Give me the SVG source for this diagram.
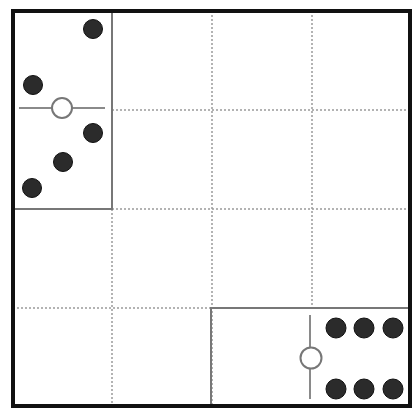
<svg xmlns="http://www.w3.org/2000/svg" width="413" height="416" viewBox="0 0 413 416">
  <style>
    .grid { stroke: #9a9a9a; stroke-width: 1.5; stroke-dasharray: 2 2; fill: none; }
    .box { stroke: #777; stroke-width: 2; fill: none; }
    .axis { stroke: #8a8a8a; stroke-width: 2; fill: none; }
    .dot { fill: #2b2b2b; stroke: #111; stroke-width: 1; }
    .hole { fill: #fff; stroke: #777; stroke-width: 2; }
    .frame { stroke: #111; stroke-width: 4; fill: none; }
  </style>
  <rect x="0" y="0" width="413" height="416" fill="#fff"/>
  <g id="grid">
    <line class="grid" x1="112" y1="209" x2="112" y2="406"/>
    <line class="grid" x1="212" y1="11" x2="212" y2="406"/>
    <line class="grid" x1="312" y1="11" x2="312" y2="308"/>
    <line class="grid" x1="112" y1="110" x2="410" y2="110"/>
    <line class="grid" x1="112" y1="209" x2="410" y2="209"/>
    <line class="grid" x1="13" y1="308" x2="211" y2="308"/>
  </g>
  <g id="top-left-region">
    <rect class="box" x="13" y="11" width="99" height="198"/>
    <line class="axis" x1="19" y1="108" x2="105" y2="108"/>
    <circle class="hole" cx="62" cy="108" r="10"/>
    <circle class="dot" cx="93" cy="29" r="9.5"/>
    <circle class="dot" cx="33" cy="85" r="9.5"/>
    <circle class="dot" cx="93" cy="133" r="9.5"/>
    <circle class="dot" cx="63" cy="162" r="9.5"/>
    <circle class="dot" cx="32" cy="188" r="9.5"/>
  </g>
  <g id="bottom-right-region">
    <rect class="box" x="211" y="308" width="199" height="98"/>
    <line class="axis" x1="310" y1="315" x2="310" y2="399"/>
    <circle class="hole" cx="311" cy="358" r="10.5"/>
    <circle class="dot" cx="336" cy="328" r="10"/>
    <circle class="dot" cx="364" cy="328" r="10"/>
    <circle class="dot" cx="393" cy="328" r="10"/>
    <circle class="dot" cx="336" cy="389" r="10"/>
    <circle class="dot" cx="364" cy="389" r="10"/>
    <circle class="dot" cx="393" cy="389" r="10"/>
  </g>
  <g id="frame">
    <rect class="frame" x="13" y="11" width="397" height="395"/>
  </g>
</svg>
